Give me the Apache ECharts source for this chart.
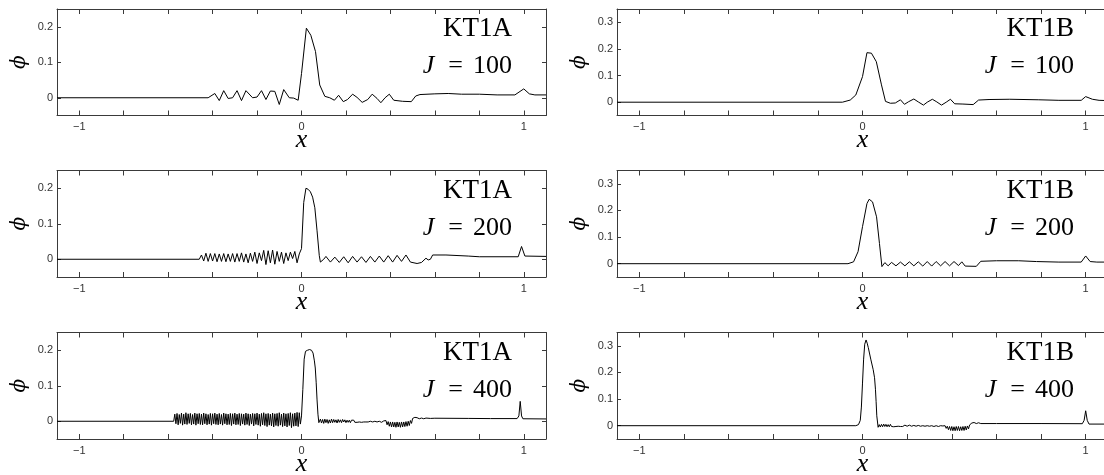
<!DOCTYPE html>
<html>
<head>
<meta charset="utf-8">
<script src="https://cdn.jsdelivr.net/npm/echarts@6/dist/echarts.min.js"></script>
<style>
html, body { margin: 0; padding: 0; background: #fff; }
#chart { width: 1104px; height: 475px; }
</style>
</head>
<body>
<div id="chart"></div>
<script>
// axis ticks
var xTicks = [-1, -0.8, -0.6, -0.4, -0.2, 0, 0.2, 0.4, 0.6, 0.8, 1];
var xLabels = [-1, 0, 1];
var yTicksA = [0, 0.1, 0.2];
var yTicksB = [0, 0.1, 0.2, 0.3];
var schemes = ['KT1A', 'KT1B'];
var cellCounts = [100, 200, 400];

// KT1A, J = 100
var kt1a100 = [[-1.1,0],[-0.42,0],[-0.39,0.012],[-0.37,-0.008],[-0.35,0.02],[-0.33,-0.002],[-0.31,0.0],[-0.29,0.02],[-0.27,-0.008],[-0.25,0.02],[-0.22,0.0],[-0.20,0.002],[-0.18,0.02],[-0.16,-0.005],[-0.14,0.019],[-0.12,0.018],[-0.10,-0.019],[-0.08,0.023],[-0.055,0.0],[-0.035,-0.001],[-0.015,-0.007],[0.0,0.068],[0.022,0.196],[0.042,0.176],[0.063,0.13],[0.082,0.036],[0.105,0.004],[0.127,0.0],[0.148,-0.007],[0.167,0.007],[0.188,-0.011],[0.207,-0.005],[0.23,0.01],[0.25,0.001],[0.273,-0.013],[0.298,-0.005],[0.318,0.01],[0.34,-0.002],[0.357,-0.014],[0.376,0.0],[0.395,0.01],[0.415,-0.007],[0.455,-0.01],[0.494,-0.011],[0.514,0.005],[0.533,0.009],[0.6,0.011],[0.66,0.012],[0.72,0.01],[0.8,0.01],[0.88,0.008],[0.96,0.008],[1.0,0.025],[1.025,0.011],[1.05,0.008],[1.1,0.008]];

// KT1B, J = 100
var kt1b100 = [[-1.1,0],[-0.09,0],[-0.055,0.008],[-0.03,0.027],[0.0,0.096],[0.02,0.186],[0.04,0.184],[0.062,0.152],[0.085,0.065],[0.103,0.003],[0.125,-0.004],[0.147,-0.003],[0.17,0.009],[0.188,-0.008],[0.207,0.002],[0.23,0.012],[0.25,0.001],[0.273,-0.011],[0.29,0.0],[0.313,0.011],[0.333,0.001],[0.354,-0.011],[0.375,0.0],[0.394,0.011],[0.413,-0.006],[0.45,-0.007],[0.496,-0.009],[0.52,0.008],[0.567,0.01],[0.66,0.011],[0.79,0.009],[0.88,0.007],[0.98,0.007],[1.0,0.021],[1.03,0.011],[1.06,0.007],[1.1,0.006]];

// KT1A, J = 200
var kt1a200 = [[-1.1,0],[-0.46,0],[-0.45,0.012],[-0.44,-0.005],[-0.43,0.017],[-0.42,-0.006],[-0.41,0.016],[-0.40,-0.005],[-0.39,0.016],[-0.38,-0.007],[-0.37,0.015],[-0.36,-0.006],[-0.35,0.016],[-0.34,-0.007],[-0.33,0.015],[-0.32,-0.006],[-0.31,0.016],[-0.30,-0.008],[-0.29,0.016],[-0.28,-0.006],[-0.27,0.018],[-0.26,-0.008],[-0.25,0.015],[-0.24,-0.01],[-0.23,0.017],[-0.22,-0.006],[-0.21,0.02],[-0.20,-0.012],[-0.19,0.018],[-0.18,-0.004],[-0.17,0.025],[-0.16,-0.015],[-0.15,0.024],[-0.14,-0.01],[-0.13,0.026],[-0.12,-0.014],[-0.11,0.022],[-0.10,-0.006],[-0.09,0.02],[-0.08,-0.012],[-0.07,0.018],[-0.06,-0.004],[-0.05,0.02],[-0.04,0.002],[-0.03,0.022],[-0.02,-0.01],[-0.01,0.015],[0.0,0.03],[0.01,0.16],[0.02,0.2],[0.03,0.197],[0.04,0.19],[0.05,0.175],[0.06,0.145],[0.07,0.08],[0.08,0.01],[0.085,-0.008],[0.10,0.0],[0.11,0.008],[0.13,-0.008],[0.15,0.006],[0.17,-0.009],[0.19,0.007],[0.21,-0.01],[0.23,0.008],[0.25,-0.008],[0.27,0.007],[0.29,-0.009],[0.31,0.008],[0.33,-0.008],[0.35,0.009],[0.37,-0.008],[0.39,0.01],[0.41,-0.008],[0.43,0.011],[0.45,-0.006],[0.47,0.012],[0.49,-0.008],[0.52,-0.012],[0.54,-0.009],[0.56,0.003],[0.57,-0.002],[0.58,0.0],[0.59,0.012],[0.65,0.012],[0.75,0.009],[0.80,0.007],[0.975,0.007],[0.99,0.036],[1.005,0.009],[1.1,0.008]];

// KT1B, J = 200
var kt1b200 = [[-1.1,0],[-0.065,0],[-0.04,0.007],[-0.02,0.045],[0.0,0.139],[0.02,0.226],[0.03,0.242],[0.045,0.232],[0.063,0.176],[0.076,0.076],[0.087,-0.011],[0.10,0.004],[0.115,-0.008],[0.13,0.005],[0.15,-0.008],[0.17,0.006],[0.19,-0.008],[0.21,0.007],[0.23,-0.008],[0.25,0.007],[0.27,-0.009],[0.29,0.008],[0.31,-0.009],[0.33,0.008],[0.35,-0.008],[0.37,0.008],[0.39,-0.008],[0.41,0.008],[0.43,-0.007],[0.445,0.007],[0.46,-0.009],[0.51,-0.01],[0.53,0.009],[0.6,0.011],[0.7,0.011],[0.78,0.008],[0.88,0.006],[0.98,0.006],[1.0,0.029],[1.02,0.008],[1.05,0.006],[1.1,0.006]];

// KT1A, J = 400
var kt1a400 = [[-1.1,0],[-0.575,0],[-0.57,0.02],[-0.565,-0.007],[-0.56,0.022],[-0.555,-0.01],[-0.55,0.019],[-0.545,-0.006],[-0.54,0.023],[-0.535,-0.011],[-0.53,0.02],[-0.525,-0.008],[-0.52,0.024],[-0.515,-0.009],[-0.51,0.021],[-0.505,-0.006],[-0.50,0.022],[-0.495,-0.01],[-0.49,0.019],[-0.485,-0.008],[-0.48,0.023],[-0.475,-0.011],[-0.47,0.021],[-0.465,-0.007],[-0.46,0.022],[-0.455,-0.009],[-0.45,0.02],[-0.445,-0.01],[-0.44,0.023],[-0.435,-0.007],[-0.43,0.021],[-0.425,-0.01],[-0.42,0.019],[-0.415,-0.008],[-0.41,0.022],[-0.405,-0.011],[-0.40,0.021],[-0.395,-0.007],[-0.39,0.023],[-0.385,-0.009],[-0.38,0.02],[-0.375,-0.01],[-0.37,0.022],[-0.365,-0.008],[-0.36,0.019],[-0.355,-0.011],[-0.35,0.023],[-0.345,-0.007],[-0.34,0.021],[-0.335,-0.01],[-0.33,0.02],[-0.325,-0.009],[-0.32,0.022],[-0.315,-0.012],[-0.31,0.021],[-0.305,-0.008],[-0.30,0.023],[-0.295,-0.01],[-0.29,0.02],[-0.285,-0.009],[-0.28,0.022],[-0.275,-0.012],[-0.27,0.021],[-0.265,-0.008],[-0.26,0.02],[-0.255,-0.011],[-0.25,0.023],[-0.245,-0.009],[-0.24,0.021],[-0.235,-0.012],[-0.23,0.02],[-0.225,-0.008],[-0.22,0.022],[-0.215,-0.013],[-0.21,0.021],[-0.205,-0.009],[-0.20,0.023],[-0.195,-0.011],[-0.19,0.02],[-0.185,-0.014],[-0.18,0.022],[-0.175,-0.01],[-0.17,0.024],[-0.165,-0.012],[-0.16,0.021],[-0.155,-0.015],[-0.15,0.022],[-0.145,-0.011],[-0.14,0.02],[-0.135,-0.013],[-0.13,0.023],[-0.125,-0.016],[-0.12,0.021],[-0.115,-0.012],[-0.11,0.022],[-0.105,-0.014],[-0.10,0.024],[-0.095,-0.011],[-0.09,0.02],[-0.085,-0.015],[-0.08,0.023],[-0.075,-0.013],[-0.07,0.021],[-0.065,-0.016],[-0.06,0.022],[-0.055,-0.012],[-0.05,0.024],[-0.045,-0.018],[-0.04,0.021],[-0.035,-0.014],[-0.03,0.023],[-0.025,-0.013],[-0.02,0.025],[-0.015,-0.015],[-0.01,0.024],[-0.005,-0.008],[0.0,0.015],[0.006,0.09],[0.012,0.175],[0.018,0.197],[0.027,0.2],[0.036,0.202],[0.045,0.2],[0.052,0.192],[0.058,0.17],[0.062,0.15],[0.066,0.11],[0.07,0.06],[0.074,0.02],[0.078,-0.004],[0.085,0.006],[0.09,-0.005],[0.095,0.005],[0.10,-0.006],[0.105,0.006],[0.11,-0.004],[0.115,0.005],[0.12,-0.006],[0.125,0.004],[0.13,-0.005],[0.135,0.006],[0.14,-0.004],[0.145,0.005],[0.15,-0.003],[0.155,0.004],[0.16,-0.005],[0.165,0.005],[0.17,-0.003],[0.175,0.004],[0.18,-0.004],[0.185,0.005],[0.19,-0.002],[0.195,0.004],[0.20,-0.004],[0.205,0.003],[0.21,-0.003],[0.215,0.003],[0.22,-0.004],[0.225,0.003],[0.23,-0.002],[0.235,0.003],[0.24,-0.003],[0.245,0.002],[0.25,-0.003],[0.255,0.002],[0.26,-0.002],[0.265,0.002],[0.27,-0.003],[0.275,0.001],[0.28,-0.002],[0.285,0.001],[0.29,-0.002],[0.295,0.001],[0.30,-0.002],[0.31,0.0],[0.32,-0.002],[0.33,0.0],[0.34,-0.002],[0.35,0.0],[0.36,-0.003],[0.37,0.001],[0.375,-0.004],[0.38,0.002],[0.385,-0.01],[0.39,-0.001],[0.395,-0.014],[0.40,-0.002],[0.405,-0.016],[0.41,-0.002],[0.415,-0.016],[0.42,-0.003],[0.425,-0.017],[0.43,-0.002],[0.435,-0.016],[0.44,-0.003],[0.445,-0.017],[0.45,-0.002],[0.455,-0.016],[0.46,-0.002],[0.465,-0.015],[0.47,-0.001],[0.475,-0.014],[0.48,0.0],[0.485,-0.012],[0.49,0.002],[0.495,-0.006],[0.50,0.008],[0.505,0.004],[0.51,0.011],[0.515,0.006],[0.52,0.01],[0.53,0.007],[0.54,0.009],[0.55,0.007],[0.56,0.009],[0.58,0.008],[0.6,0.0085],[0.75,0.008],[0.85,0.0075],[0.97,0.0075],[0.978,0.015],[0.984,0.056],[0.99,0.015],[0.996,0.007],[1.1,0.0065]];

// KT1B, J = 400
var kt1b400 = [[-1.1,0],[-0.03,0],[-0.018,0.004],[-0.01,0.02],[-0.005,0.07],[0.0,0.16],[0.005,0.25],[0.01,0.306],[0.016,0.322],[0.021,0.31],[0.026,0.293],[0.037,0.25],[0.048,0.21],[0.054,0.18],[0.058,0.137],[0.061,0.09],[0.064,0.037],[0.07,-0.006],[0.075,0.004],[0.08,-0.005],[0.085,0.005],[0.09,-0.004],[0.095,0.006],[0.10,-0.003],[0.105,0.005],[0.11,-0.004],[0.115,0.004],[0.12,-0.004],[0.125,0.005],[0.13,-0.003],[0.135,0.004],[0.14,-0.004],[0.145,0.003],[0.15,-0.003],[0.155,0.004],[0.16,-0.002],[0.165,0.003],[0.17,-0.003],[0.175,0.002],[0.18,-0.003],[0.19,0.002],[0.20,-0.002],[0.21,0.002],[0.22,-0.002],[0.23,0.001],[0.24,-0.002],[0.25,0.001],[0.26,-0.002],[0.27,0.0],[0.28,-0.002],[0.29,0.0],[0.30,-0.002],[0.31,0.0],[0.32,-0.003],[0.33,0.0],[0.34,-0.003],[0.35,0.0],[0.36,-0.001],[0.365,-0.004],[0.37,0.0],[0.375,-0.01],[0.38,-0.002],[0.385,-0.015],[0.39,-0.003],[0.395,-0.018],[0.40,-0.003],[0.405,-0.019],[0.41,-0.004],[0.415,-0.019],[0.42,-0.003],[0.425,-0.018],[0.43,-0.003],[0.435,-0.019],[0.44,-0.004],[0.445,-0.018],[0.45,-0.003],[0.455,-0.018],[0.46,-0.002],[0.465,-0.016],[0.47,-0.001],[0.475,-0.012],[0.48,0.003],[0.485,0.0],[0.49,0.01],[0.495,0.006],[0.50,0.012],[0.51,0.008],[0.52,0.011],[0.53,0.008],[0.6,0.008],[0.8,0.008],[0.985,0.0075],[0.993,0.02],[1.0,0.056],[1.007,0.02],[1.015,0.006],[1.1,0.006]];

var panels = [
    { data: kt1a100, col: 0, row: 0 },
    { data: kt1b100, col: 1, row: 0 },
    { data: kt1a200, col: 0, row: 1 },
    { data: kt1b200, col: 1, row: 1 },
    { data: kt1a400, col: 0, row: 2 },
    { data: kt1b400, col: 1, row: 2 }
];

// layout
var colLeft = [57, 617];
var colWidth = [489, 491];
var rowTop = [9, 170.5, 332.5];
var boxHeight = 106.5;
var axisColor = '#3a3a3a';

var minus = function (v) {
    return String(v).replace('-', '\u2212');
};

var grids = [], xAxes = [], yAxes = [], series = [], texts = [];

panels.forEach(function (p, i) {
    var left = colLeft[p.col];
    var top = rowTop[p.row];
    var ymax = p.col === 0 ? 0.25 : 0.35;
    var yTicks = p.col === 0 ? yTicksA : yTicksB;

    grids.push({
        left: left,
        top: top,
        width: colWidth[p.col],
        height: boxHeight,
        containLabel: false,
        outerBoundsMode: 'none'
    });

    var line = { onZero: false, lineStyle: { color: axisColor, width: 1 } };
    var xTick = { inside: true, length: 5, customValues: xTicks, lineStyle: { color: axisColor } };
    var yTick = { inside: true, length: 4, customValues: yTicks, lineStyle: { color: axisColor } };

    xAxes.push({
        gridIndex: i,
        type: 'value',
        position: 'bottom',
        min: -1.1,
        max: 1.1,
        axisLine: line,
        axisTick: xTick,
        splitLine: { show: false },
        axisLabel: {
            customValues: xLabels,
            formatter: minus,
            fontFamily: 'Liberation Sans',
            fontSize: 11,
            color: '#333',
            margin: 6
        },
        name: 'x',
        nameLocation: 'middle',
        nameGap: 12,
        nameMoveOverlap: false,
        nameTextStyle: {
            fontFamily: 'Liberation Serif',
            fontStyle: 'italic',
            fontSize: 26,
            color: '#000'
        }
    });
    xAxes.push({
        gridIndex: i,
        type: 'value',
        position: 'top',
        min: -1.1,
        max: 1.1,
        axisLine: line,
        axisTick: xTick,
        splitLine: { show: false },
        axisLabel: { show: false }
    });

    yAxes.push({
        gridIndex: i,
        type: 'value',
        position: 'left',
        min: -0.05,
        max: ymax,
        axisLine: line,
        axisTick: yTick,
        splitLine: { show: false },
        axisLabel: {
            customValues: yTicks,
            formatter: minus,
            fontFamily: 'Liberation Sans',
            fontSize: 11,
            color: '#333',
            margin: 4
        },
        name: '\u03D5',
        nameLocation: 'middle',
        nameRotate: 90,
        nameGap: 27,
        nameMoveOverlap: false,
        nameTextStyle: {
            fontFamily: 'DejaVu Serif',
            fontStyle: 'italic',
            fontSize: 20,
            color: '#000'
        }
    });
    yAxes.push({
        gridIndex: i,
        type: 'value',
        position: 'right',
        min: -0.05,
        max: ymax,
        axisLine: line,
        axisTick: yTick,
        splitLine: { show: false },
        axisLabel: { show: false }
    });

    series.push({
        type: 'line',
        xAxisIndex: i * 2,
        yAxisIndex: i * 2,
        data: p.data,
        symbol: 'none',
        silent: true,
        lineStyle: { color: '#000', width: 1 }
    });

    // scheme name and cell count, top right of the box
    var right = left + colWidth[p.col] - 34;
    texts.push({
        type: 'text',
        silent: true,
        style: {
            text: schemes[p.col],
            x: right,
            y: top + 20,
            align: 'right',
            verticalAlign: 'middle',
            font: '27px "Liberation Serif"',
            fill: '#000'
        }
    });
    texts.push({
        type: 'text',
        silent: true,
        style: {
            text: '{i|J}{e|=}' + cellCounts[p.row],
            x: right,
            y: top + 57.5,
            align: 'right',
            verticalAlign: 'middle',
            font: '26px "Liberation Serif"',
            fill: '#000',
            rich: {
                i: { fontStyle: 'italic', fontFamily: 'Liberation Serif', fontSize: 26 },
                e: { fontFamily: 'Liberation Serif', fontSize: 26, padding: [0, 10, 0, 14] }
            }
        }
    });
});

var myChart = echarts.init(document.getElementById('chart'));
myChart.setOption({
    animation: false,
    grid: grids,
    xAxis: xAxes,
    yAxis: yAxes,
    series: series,
    graphic: texts
});
</script>
</body>
</html>
